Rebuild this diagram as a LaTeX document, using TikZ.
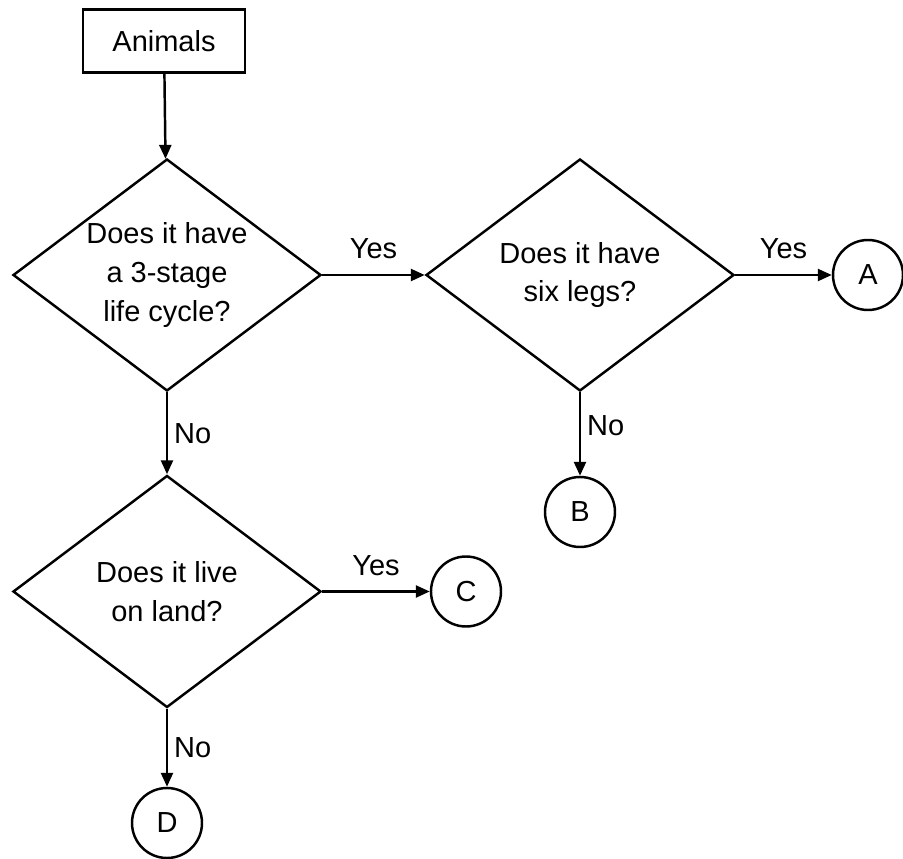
\documentclass[tikz,border=0pt]{standalone}
\usepackage{fontspec}
\setmainfont{Liberation Sans}
\usetikzlibrary{arrows.meta,shapes.geometric,positioning}

\begin{document}
\begin{tikzpicture}[>={Triangle[length=0.28cm,width=0.24cm]},line width=1.4pt,auto,
    font=\fontsize{16.5}{22}\selectfont,
    start/.style={draw,rectangle,minimum width=3.24cm,minimum height=1.26cm},
    question/.style={draw,diamond,aspect=1.33,inner sep=-0.3cm,minimum width=6.16cm,minimum height=4.64cm,align=center},
    answer/.style={draw,circle,minimum size=1.4cm,inner sep=0pt},
    yes/.style={yshift=0.18cm}]
      \useasboundingbox (0,0) rectangle (18.06,-17.18);

      \node[start] (animals) at (3.28,-0.82) {Animals};
      \node[question] (q1) at (3.34,-5.5) {Does it have\\a 3-stage\\life cycle?};
      \node[question] (q2) at (11.6,-5.5) {Does it have\\six legs?};
      \node[question] (q3) at (3.34,-11.83) {Does it live\\on land?};

      \node[answer] (a) at (17.36,-5.5) {A};
      \node[answer] (b) at (11.6,-10.24) {B};
      \node[answer] (c) at (9.32,-11.83) {C};
      \node[answer] (d) at (3.34,-16.46) {D};

      \path[->]
      (animals) edge (q1)
      (q1) edge node[yes] {Yes} (q2)
      (q1) edge node {No} (q3)

      (q2) edge node[yes] {Yes} (a)
      (q2) edge node[pos=0.4] {No} (b)

      (q3) edge node[yes] {Yes} (c)
      (q3) edge node {No} (d)
      ;
    \end{tikzpicture}
\end{document}
